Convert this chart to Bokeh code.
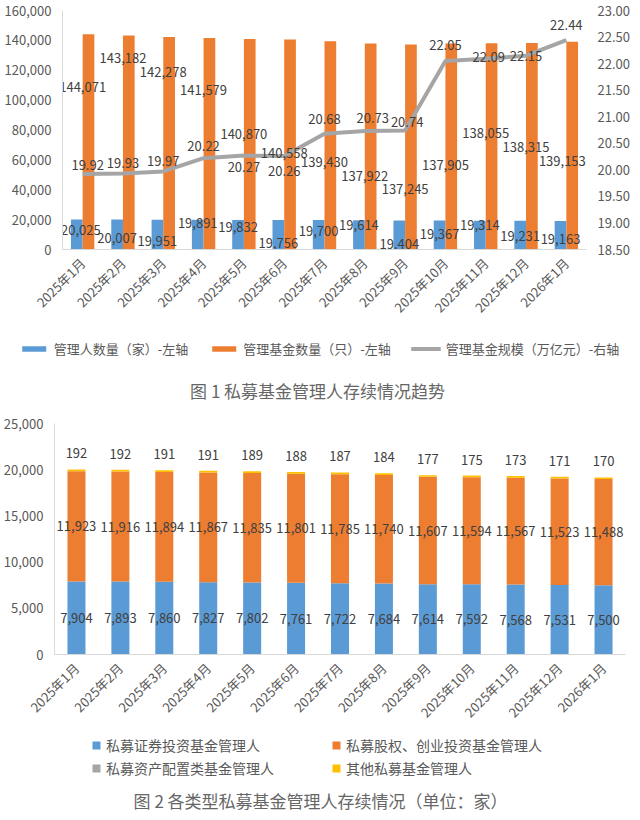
import math
from bokeh.plotting import figure
from bokeh.models import (ColumnDataSource, FactorRange, Range1d, LinearAxis,
                          NumeralTickFormatter, FixedTicker, Legend, LegendItem, Label)
from bokeh.transform import dodge
from bokeh.layouts import column
from bokeh.core.properties import value
from bokeh.embed import file_html
from bokeh.resources import INLINE

# ---------------- data ----------------
months = ["2025年1月", "2025年2月", "2025年3月", "2025年4月", "2025年5月", "2025年6月",
          "2025年7月", "2025年8月", "2025年9月", "2025年10月", "2025年11月", "2025年12月",
          "2026年1月"]

# Figure 1
manager_count = [20025, 20007, 19951, 19891, 19832, 19756, 19700, 19614, 19404, 19367, 19314, 19231, 19163]
fund_count = [144071, 143182, 142278, 141579, 140870, 140558, 139430, 137922, 137245, 137905, 138055, 138315, 139153]
fund_scale = [19.92, 19.93, 19.97, 20.22, 20.27, 20.26, 20.68, 20.73, 20.74, 22.05, 22.09, 22.15, 22.44]
left_ticks_1 = [0, 20000, 40000, 60000, 80000, 100000, 120000, 140000, 160000]
right_ticks_1 = [18.5, 19.0, 19.5, 20.0, 20.5, 21.0, 21.5, 22.0, 22.5, 23.0]

# Figure 2
securities = [7904, 7893, 7860, 7827, 7802, 7761, 7722, 7684, 7614, 7592, 7568, 7531, 7500]
equity_vc = [11923, 11916, 11894, 11867, 11835, 11801, 11785, 11740, 11607, 11594, 11567, 11523, 11488]
asset_alloc = [6, 6, 6, 6, 6, 6, 6, 6, 6, 6, 6, 6, 5]
other = [192, 192, 191, 191, 189, 188, 187, 184, 177, 175, 173, 171, 170]
left_ticks_2 = [0, 5000, 10000, 15000, 20000, 25000]

# label placement (screen pixels, as the labels were placed in the original)
manager_label_dx = [4, 0, 0, 0, 0, 0, 0, 0, 0, 0, 0, 0, 0]
manager_label_dy = [10, 18, 21, 3, 7, 23, 11, 5, 23, 13, 4, 15, 18]
fund_label_dx = [0, 0, 0, 0, 0, 0, 0, 0, 0, 0, 0, 0, -4]
fund_label_dy = [53, 22, 35, 52, 95, 113, 121, 133, 145, 121, 90, 104, 119]
scale_label_dx = [5, 0, 0, 0, 0, 0, 0, 8, 2, 0, 3, 0, 0]
scale_label_dy = [-9, -11, -10, -12, 12, 15, -15, -13, -9, -16, -2, 0, -15]

# ---------------- style ----------------
FONT = "Noto Sans CJK SC"
BLUE, ORANGE, GRAY, YELLOW = "#5B9BD5", "#ED7D31", "#A5A5A5", "#FFC000"
TICK_C, LABEL_C, AXIS_C, CAP_C = "#595959", "#404040", "#D9D9D9", "#666666"
NAN = [math.nan]


def style_axis(ax, show_line=True):
    ax.major_tick_line_color = None
    ax.minor_tick_line_color = None
    ax.axis_line_color = AXIS_C if show_line else None
    ax.major_label_text_font = FONT
    ax.major_label_text_font_size = "13px"
    ax.major_label_text_color = TICK_C


def legend_fig(height, left=0):
    f = figure(width=638, height=height, x_range=Range1d(0, 1), y_range=Range1d(0, 1),
               x_axis_type=None, y_axis_type=None, output_backend="svg",
               toolbar_location=None, min_border=0, min_border_left=left, frame_align=False)
    f.outline_line_color = None
    return f


txt = dict(text_font=value(FONT), text_font_size="13px", text_color=LABEL_C,
           text_align="center", text_baseline="middle")

# ---------------- figure 1 ----------------
src1 = ColumnDataSource(dict(
    m=months, managers=manager_count, funds=fund_count, scale=fund_scale,
    managers_lbl=[f"{v:,}" for v in manager_count],
    funds_lbl=[f"{v:,}" for v in fund_count],
    scale_lbl=[f"{v:.2f}" for v in fund_scale],
    mdx=manager_label_dx, mdy=manager_label_dy,
    fdx=fund_label_dx, fdy=fund_label_dy,
    sdx=scale_label_dx, sdy=scale_label_dy,
))

p1 = figure(x_range=FactorRange(factors=months), y_range=Range1d(0, 160000),
            width=638, height=325, output_backend="svg", toolbar_location=None,
            frame_align=False,
            min_border_top=10, min_border_left=62, min_border_right=52, min_border_bottom=76)
p1.extra_y_ranges = {"right": Range1d(18.5, 23.0)}
p1.outline_line_color = None
p1.xgrid.visible = False
p1.ygrid.visible = False

p1.vbar(x=dodge("m", -0.145, range=p1.x_range), top="managers", width=0.29,
        source=src1, fill_color=BLUE, line_color=None)
p1.vbar(x=dodge("m", 0.145, range=p1.x_range), top="funds", width=0.29,
        source=src1, fill_color=ORANGE, line_color=None)
p1.line(x="m", y="scale", source=src1, y_range_name="right",
        line_color=GRAY, line_width=4, line_join="round")

p1.text(x=dodge("m", -0.145, range=p1.x_range), y="managers", text="managers_lbl",
        x_offset="mdx", y_offset="mdy", source=src1, **txt)
p1.text(x="m", y="funds", text="funds_lbl", x_offset="fdx", y_offset="fdy",
        source=src1, **txt)
p1.text(x="m", y="scale", text="scale_lbl", x_offset="sdx", y_offset="sdy", source=src1,
        y_range_name="right", **txt)

p1.yaxis.ticker = FixedTicker(ticks=left_ticks_1)
p1.yaxis.formatter = NumeralTickFormatter(format="0,0")
style_axis(p1.yaxis[0])
style_axis(p1.xaxis[0])
p1.xaxis.major_label_orientation = math.pi / 4

ax_r = LinearAxis(y_range_name="right", ticker=FixedTicker(ticks=right_ticks_1),
                  formatter=NumeralTickFormatter(format="0.00"))
style_axis(ax_r, show_line=False)
p1.add_layout(ax_r, "right")

# legend + caption 1 (legend swatches use empty proxy glyphs)
l1 = legend_fig(83)
lb = l1.vbar(x=NAN, top=NAN, width=1, fill_color=BLUE, line_color=None)
lo = l1.vbar(x=NAN, top=NAN, width=1, fill_color=ORANGE, line_color=None)
lg = l1.line(x=NAN, y=NAN, line_color=GRAY, line_width=4)
leg1 = Legend(items=[LegendItem(label="管理人数量（家）-左轴", renderers=[lb]),
                     LegendItem(label="管理基金数量（只）-左轴", renderers=[lo]),
                     LegendItem(label="管理基金规模（万亿元）-右轴", renderers=[lg])],
              orientation="horizontal", location="top_center", glyph_width=30, glyph_height=7,
              label_text_font=FONT, label_text_font_size="13px", label_text_color=TICK_C,
              spacing=20, border_line_color=None, background_fill_alpha=0,
              margin=14, padding=6)
l1.add_layout(leg1, "center")
l1.add_layout(Label(x=0.5, y=18, y_units="screen", text="图 1  私募基金管理人存续情况趋势",
                    text_align="center", text_baseline="middle", text_font=FONT,
                    text_font_size="17px", text_color=CAP_C))

# ---------------- figure 2 ----------------
sec_mid = [s / 2 for s in securities]
eq_mid = [s + e / 2 for s, e in zip(securities, equity_vc)]
totals = [s + e + a + o for s, e, a, o in zip(securities, equity_vc, asset_alloc, other)]

src2 = ColumnDataSource(dict(
    m=months, securities=securities, equity=equity_vc, asset=asset_alloc, other=other,
    sec_mid=sec_mid, eq_mid=eq_mid, total=totals,
    sec_lbl=[f"{v:,}" for v in securities],
    eq_lbl=[f"{v:,}" for v in equity_vc],
    oth_lbl=[f"{v:,}" for v in other],
))

p2 = figure(x_range=FactorRange(factors=months), y_range=Range1d(0, 25000),
            width=638, height=322, output_backend="svg", toolbar_location=None,
            frame_align=False,
            min_border_top=15, min_border_left=51, min_border_right=13, min_border_bottom=76)
p2.outline_line_color = None
p2.xgrid.visible = False
p2.ygrid.visible = False

p2.vbar_stack(["securities", "equity", "asset", "other"], x="m", width=0.41,
              source=src2, color=[BLUE, ORANGE, GRAY, YELLOW], line_color=None)

p2.text(x="m", y="sec_mid", text="sec_lbl", source=src2, **txt)
p2.text(x="m", y="eq_mid", text="eq_lbl", source=src2, **txt)
p2.text(x="m", y="total", text="oth_lbl", y_offset=-16, source=src2, **txt)

p2.yaxis.ticker = FixedTicker(ticks=left_ticks_2)
p2.yaxis.formatter = NumeralTickFormatter(format="0,0")
style_axis(p2.yaxis[0])
style_axis(p2.xaxis[0])
p2.xaxis.major_label_orientation = math.pi / 4

# legend + caption 2
L2_LEFT = 86
l2 = legend_fig(88, left=L2_LEFT)
sq = [l2.vbar(x=NAN, top=NAN, width=1, fill_color=c, line_color=None)
      for c in (BLUE, ORANGE, GRAY, YELLOW)]
leg2 = Legend(items=[LegendItem(label="私募证券投资基金管理人", renderers=[sq[0]]),
                     LegendItem(label="私募股权、创业投资基金管理人", renderers=[sq[1]]),
                     LegendItem(label="私募资产配置类基金管理人", renderers=[sq[2]]),
                     LegendItem(label="其他私募基金管理人", renderers=[sq[3]])],
              orientation="horizontal", ncols=2, location="top_left",
              glyph_width=10, glyph_height=10, label_width=222, label_height=17,
              label_text_font=FONT, label_text_font_size="14px", label_text_color=TICK_C,
              spacing=3, border_line_color=None, background_fill_alpha=0,
              margin=5, padding=4)
l2.add_layout(leg2, "center")
l2.add_layout(Label(x=(322 - L2_LEFT) / (638 - L2_LEFT), y=18, y_units="screen",
                    text="图 2  各类型私募基金管理人存续情况（单位：家）",
                    text_align="center", text_baseline="middle", text_font=FONT,
                    text_font_size="17px", text_color=CAP_C))

layout = column(p1, l1, p2, l2, spacing=0)
open("out.html", "w").write(file_html(layout, INLINE))
